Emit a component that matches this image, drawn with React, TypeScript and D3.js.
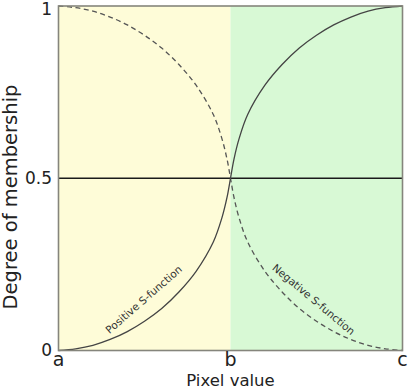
import * as d3 from "d3"

// x is normalised: a = 0, b = 0.5, c = 1
const xTicks = [
  { v: 0, label: "a" },
  { v: 0.5, label: "b" },
  { v: 1, label: "c" },
]
const yTicks = [
  { v: 0, label: "0" },
  { v: 0.5, label: "0.5" },
  { v: 1, label: "1" },
]

// points
const sX = [0, 0.05, 0.1, 0.15, 0.2, 0.25, 0.3, 0.35, 0.4, 0.45, 0.475, 0.49, 0.5, 0.51, 0.525, 0.55, 0.6, 0.65, 0.7, 0.75, 0.8, 0.85, 0.9, 0.95, 1]
const positiveY = [0, 0.005, 0.015, 0.032, 0.055, 0.085, 0.122, 0.17, 0.23, 0.315, 0.385, 0.445, 0.5, 0.555, 0.615, 0.685, 0.77, 0.83, 0.878, 0.915, 0.945, 0.968, 0.985, 0.995, 1]
const negativeY = [1, 0.995, 0.985, 0.968, 0.945, 0.915, 0.878, 0.83, 0.77, 0.685, 0.615, 0.555, 0.5, 0.445, 0.385, 0.315, 0.23, 0.17, 0.122, 0.085, 0.055, 0.032, 0.015, 0.005, 0]

const W = 408
const H = 390
const font = "DejaVu Sans, Verdana, sans-serif"

export default function App() {
  const x = d3.scaleLinear().domain([0, 1]).range([58.5, 402.5])
  const y = d3.scaleLinear().domain([0, 1]).range([350.5, 6])

  const line = d3
    .line<number>()
    .x((_, i) => x(sX[i]))
    .y((d) => y(d))
    .curve(d3.curveCatmullRom.alpha(0.5))

  const posLabel = { x: 0.255, y: 0.14, angle: -41 }
  const negLabel = { x: 0.735, y: 0.14, angle: 40 }

  return (
    <svg
      width={W}
      height={H}
      style={{ position: "absolute", left: 0, top: 0, background: "#fff" }}
      fontFamily={font}
    >
      <rect x={x(0)} y={y(1)} width={x(0.5) - x(0)} height={y(0) - y(1)} fill="#fefcd8" />
      <rect x={x(0.5)} y={y(1)} width={x(1) - x(0.5)} height={y(0) - y(1)} fill="#d8f9d5" />

      <line x1={x(0)} x2={x(1)} y1={y(0.5)} y2={y(0.5)} stroke="#1a1a1a" strokeWidth={1.4} />

      <path d={line(negativeY) ?? ""} fill="none" stroke="#555" strokeWidth={1.3} strokeDasharray="5,3.5" />
      <path d={line(positiveY) ?? ""} fill="none" stroke="#444" strokeWidth={1.3} />

      <rect
        x={x(0)}
        y={y(1)}
        width={x(1) - x(0)}
        height={y(0) - y(1)}
        fill="none"
        stroke="#85857c"
        strokeWidth={1.6}
      />

      <text
        transform={`translate(${x(posLabel.x)},${y(posLabel.y)}) rotate(${posLabel.angle})`}
        fontSize={10.5}
        fill="#333"
        textAnchor="middle"
      >
        Positive S-function
      </text>
      <text
        transform={`translate(${x(negLabel.x)},${y(negLabel.y)}) rotate(${negLabel.angle})`}
        fontSize={10.5}
        fill="#333"
        textAnchor="middle"
      >
        Negative S-function
      </text>

      {yTicks.map((t) => (
        <text
          key={t.label}
          x={52}
          y={t.v === 1 ? 15 : y(t.v)}
          dy={t.v === 1 ? 0 : "0.35em"}
          textAnchor="end"
          fontSize={17}
          fill="#222"
        >
          {t.label}
        </text>
      ))}
      {xTicks.map((t) => (
        <text key={t.label} x={x(t.v)} y={366} textAnchor="middle" fontSize={19} fill="#222">
          {t.label}
        </text>
      ))}

      <text x={x(0.5)} y={386} textAnchor="middle" fontSize={16.5} fill="#222">
        Pixel value
      </text>
      <text transform={`translate(17,197) rotate(-90)`} textAnchor="middle" fontSize={19.5} fill="#222">
        Degree of membership
      </text>
    </svg>
  )
}
